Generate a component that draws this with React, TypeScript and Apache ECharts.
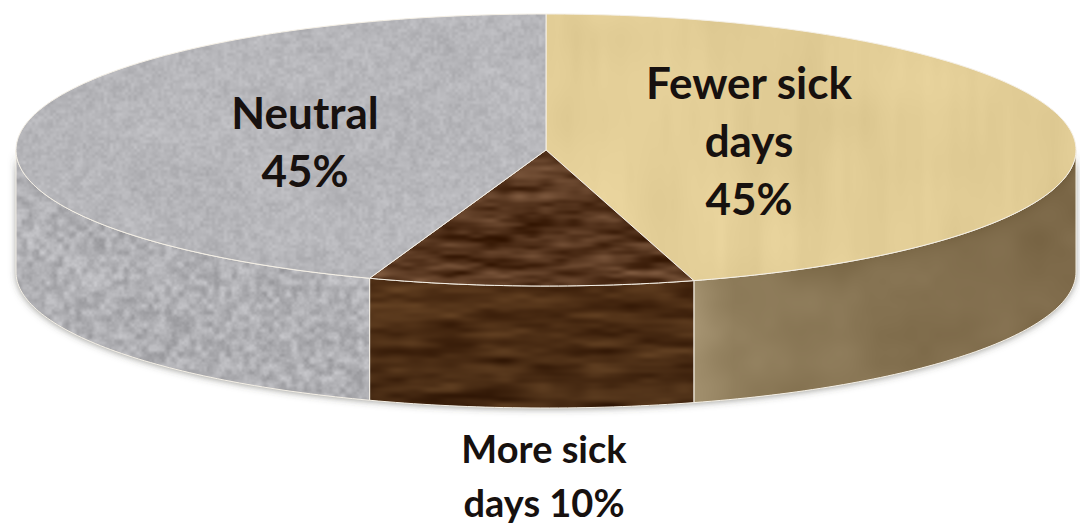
import React, { useEffect, useRef } from "react";
import * as echarts from "echarts";

// Share of the disc each slice occupies (read from the slice edges), clockwise from 12 o'clock
const sliceNames = ["Fewer sick days", "More sick days", "Neutral"];
const sliceShares = [45.5, 9.9, 44.6];
const sliceLabels = ["Fewer sick\ndays\n45%", "More sick\ndays 10%", "Neutral\n45%"];

const labelAnchors = [
  { x: 749, y: 140, size: 44, lineHeight: 58 },
  { x: 544, y: 475, size: 38, lineHeight: 54 },
  { x: 305, y: 141, size: 44, lineHeight: 58 },
];
const CX = 546, CY = 150, RX = 530, RY = 136, DEPTH = 122;

const W = 1080, H = 524;
const clamp01 = (v: number) => Math.min(1, Math.max(0, v));
function hash(x: number, y: number) {
  const s = Math.sin(x * 12.9898 + y * 78.233) * 43758.5453;
  return s - Math.floor(s);
}
function vnoise(x: number, y: number) {
  const xi = Math.floor(x), yi = Math.floor(y);
  let fx = x - xi, fy = y - yi;
  fx = fx * fx * (3 - 2 * fx); fy = fy * fy * (3 - 2 * fy);
  const a = hash(xi, yi), b = hash(xi + 1, yi), c = hash(xi, yi + 1), d = hash(xi + 1, yi + 1);
  return (a * (1 - fx) + b * fx) * (1 - fy) + (c * (1 - fx) + d * fx) * fy - 0.5;
}
function texture(fn: (x: number, y: number) => number[]) {
  const c = document.createElement("canvas");
  c.width = W; c.height = H;
  const ctx = c.getContext("2d")!;
  const img = ctx.createImageData(W, H);
  for (let y = 0; y < H; y++) for (let x = 0; x < W; x++) {
    const p = fn(x, y), i = (y * W + x) * 4;
    img.data[i] = p[0]; img.data[i + 1] = p[1]; img.data[i + 2] = p[2]; img.data[i + 3] = 255;
  }
  ctx.putImageData(img, 0, 0);
  return c;
}
const shade = (r: number, g: number, b: number, n: number) => [r + n, g + n, b + n];

function buildFills() {
  const tanTop = texture((x, y) =>
    shade(226, 205, 150, vnoise(x / 30, y / 260) * 10 + vnoise(x / 9, y / 60) * 4 + vnoise(x / 60, y / 40) * 8));
  const tanSide = texture((x, y) => {
    const t = clamp01((x - 695) / 380);
    const dx = (x - CX) / RX;
    const rimY = CY + RY * Math.sqrt(Math.max(0, 1 - dx * dx));
    const depth = Math.max(0, y - rimY);
    const band = -14 * Math.exp(-depth / 12) * clamp01(t * 2);
    return shade(146 - 22 * t, 128 - 24 * t, 94 - 22 * t,
      (t < 0.1 ? (0.1 - t) * 160 : 0) + band + vnoise(x / 40, y / 30) * 12 + vnoise(x / 14, y / 14) * 3);
  });
  const woodTop = texture((x, y) => {
    const n = vnoise(x / 38, y / 7) * 58 + vnoise(x / 14, y / 4) * 28 + vnoise(x / 70, y / 18) * 22;
    return [88 + n, 55 + n * 0.9, 32 + n * 0.8];
  });
  const woodSide = texture((x, y) => {
    const n = vnoise(x / 50, y / 9) * 40 + vnoise(x / 18, y / 5) * 18;
    const d = clamp01((y - 285) / 120);
    return [80 - 14 * d + n, 48 - 10 * d + n * 0.85, 22 - 6 * d + n * 0.6];
  });
  const greyTop = texture((x, y) =>
    shade(182, 182, 186, vnoise(x / 3, y / 3) * 15 + vnoise(x / 7, y / 7) * 12 + vnoise(x / 45, y / 45) * 7));
  const greySide = texture((x, y) =>
    shade(176, 176, 180, vnoise(x / 6, y / 6) * 38 + vnoise(x / 2.5, y / 2.5) * 12 + vnoise(x / 40, y / 40) * 8));
  return [
    { top: tanTop, side: tanSide },
    { top: woodTop, side: woodSide },
    { top: greyTop, side: greySide },
  ];
}

const pt = (deg: number, dy = 0) => {
  const a = (deg * Math.PI) / 180;
  return [CX + RX * Math.sin(a), CY - RY * Math.cos(a) + dy];
};
const arc = (a0: number, a1: number, dy = 0) => {
  const out: number[][] = [];
  const n = Math.max(2, Math.ceil(Math.abs(a1 - a0) / 1));
  for (let i = 0; i <= n; i++) out.push(pt(a0 + ((a1 - a0) * i) / n, dy));
  return out;
};

export default function App() {
  const ref = useRef<HTMLDivElement>(null);
  useEffect(() => {
    document.body.style.margin = "0";
    document.body.style.background = "#fff";
    const chart = echarts.init(ref.current!, undefined, { renderer: "svg" });
    const fills = buildFills().map((f) => ({
      top: { image: f.top, repeat: "repeat" },
      side: { image: f.side, repeat: "repeat" },
    }));
    const total = sliceShares.reduce((a, b) => a + b, 0);
    const rim = "#f5f0e6";
    chart.setOption({
      animation: false,
      backgroundColor: "#ffffff",
      series: [
        {
          type: "custom",
          coordinateSystem: "none",
          silent: true,
          data: sliceShares.map((v, i) => ({ name: sliceNames[i], value: v })),
          renderItem: (params: any) => {
            const i = params.dataIndex;
            const before = sliceShares.slice(0, i).reduce((a, b) => a + b, 0);
            const a0 = (before / total) * 360;
            const a1 = ((before + sliceShares[i]) / total) * 360;
            const children: any[] = [];
            if (i === 0) {
              children.push({
                type: "polygon",
                z2: -1,
                shape: { points: [...arc(90, 270, DEPTH), ...arc(270, 90, 0)] },
                style: { fill: "#c4c4c0", shadowBlur: 7, shadowColor: "rgba(70,70,60,0.55)", shadowOffsetY: 1 },
              });
            }
            const s0 = Math.max(a0, 90), s1 = Math.min(a1, 270);
            if (s1 > s0) {
              children.push({
                type: "polygon",
                shape: { points: [...arc(s0, s1, 0), ...arc(s1, s0, DEPTH)] },
                style: { fill: fills[i].side, stroke: rim, lineWidth: 1 },
              });
            }
            children.push({
              type: "polygon",
              shape: { points: [[CX, CY], ...arc(a0, a1, 0)] },
              style: { fill: fills[i].top, stroke: rim, lineWidth: 1 },
            });
            const l = labelAnchors[i];
            children.push({
              type: "text",
              z2: 10,
              x: l.x,
              y: l.y,
              style: {
                text: sliceLabels[i],
                fill: "#17110f",
                align: "center",
                verticalAlign: "middle",
                font: `bold ${l.size}px Lato`,
                fontFamily: "Lato",
                fontWeight: "bold",
                fontSize: l.size,
                lineHeight: l.lineHeight,
              },
            });
            return { type: "group", children };
          },
        },
      ],
    });
    return () => chart.dispose();
  }, []);
  return <div ref={ref} style={{ position: "fixed", left: 0, top: 0, width: 1080, height: 524 }} />;
}
